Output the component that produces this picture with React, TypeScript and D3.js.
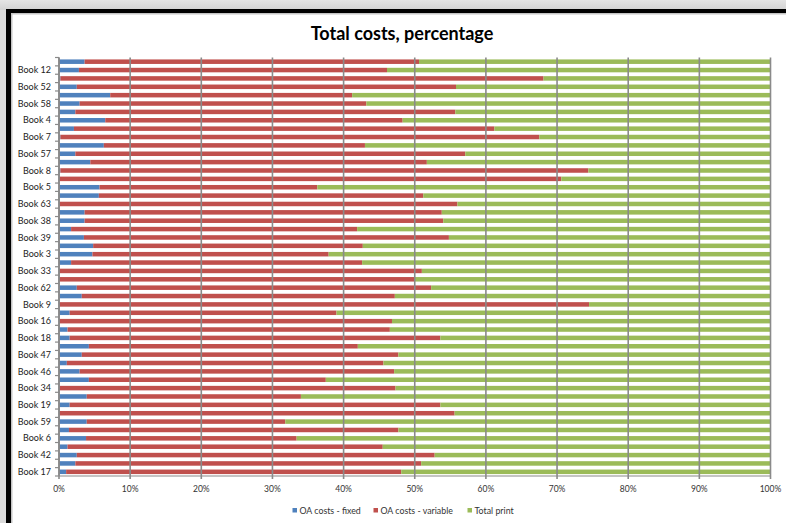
import React from "react";
import * as d3 from "d3";

const bookLabels = ["", "Book 12", "", "Book 52", "", "Book 58", "", "Book 4", "", "Book 7", "", "Book 57", "", "Book 8", "", "Book 5", "", "Book 63", "", "Book 38", "", "Book 39", "", "Book 3", "", "Book 33", "", "Book 62", "", "Book 9", "", "Book 16", "", "Book 18", "", "Book 47", "", "Book 46", "", "Book 34", "", "Book 19", "", "Book 59", "", "Book 6", "", "Book 42", "", "Book 17"];

const fixedPct = [3.6, 2.8, 0.2, 2.5, 7.2, 2.9, 2.3, 6.5, 2.1, 0.2, 6.3, 2.3, 4.4, 0.2, 0, 5.7, 5.6, 0, 3.6, 3.6, 1.7, 3.5, 4.8, 4.7, 1.7, 0, 0, 2.5, 3.2, 0, 1.5, 0, 1.2, 1.5, 4.2, 3.2, 1.1, 2.9, 4.2, 0, 3.9, 1.5, 0, 3.9, 1.4, 3.8, 1.2, 2.5, 2.3, 1.0];

const variablePct = [47.0, 43.3, 67.9, 53.3, 34.0, 40.3, 53.4, 41.8, 59.1, 67.3, 36.7, 54.8, 47.3, 74.2, 70.6, 30.6, 45.6, 56.0, 50.2, 50.4, 40.2, 51.3, 37.9, 33.2, 40.9, 51.0, 50.0, 49.8, 44.0, 74.5, 37.5, 46.8, 45.3, 52.1, 37.8, 44.5, 44.5, 44.2, 33.3, 47.3, 30.1, 52.1, 55.6, 27.9, 46.3, 29.6, 44.3, 50.3, 48.6, 47.1];

const printPct = [49.4, 53.9, 31.9, 44.2, 58.8, 56.8, 44.3, 51.7, 38.8, 32.5, 57.0, 42.9, 48.3, 25.6, 29.4, 63.7, 48.8, 44.0, 46.2, 46.0, 58.1, 45.2, 57.3, 62.1, 57.4, 49.0, 50.0, 47.7, 52.8, 25.5, 61.0, 53.2, 53.5, 46.4, 58.0, 52.3, 54.4, 52.9, 62.5, 52.7, 66.0, 46.4, 44.4, 68.2, 52.3, 66.6, 54.5, 47.2, 49.1, 51.9];

const seriesNames = ["OA costs - fixed", "OA costs - variable", "Total print"];
const seriesColors = ["#4F81BD", "#C0504D", "#9BBB59"];
const xTicks = [0, 0.1, 0.2, 0.3, 0.4, 0.5, 0.6, 0.7, 0.8, 0.9, 1.0];

const W = 786;
const H = 523;
const plot = { left: 59, right: 770.5, top: 57.5, bottom: 476 };
const FONT = "Lato, 'Liberation Sans', sans-serif";

export default function App() {
  const rows = bookLabels.map((label, i) => ({
    idx: i,
    label,
    fixed: fixedPct[i],
    variable: variablePct[i],
    print: printPct[i],
  }));
  const keys = ["fixed", "variable", "print"];
  const stacked = d3.stack<any>().keys(keys).offset(d3.stackOffsetExpand)(rows);

  const x = d3.scaleLinear().domain([0, 1]).range([plot.left, plot.right]);
  const y = d3
    .scaleBand<number>()
    .domain(rows.map((r) => r.idx))
    .range([plot.top, plot.bottom])
    .paddingInner(0.46)
    .paddingOuter(0.23);
  const step = y.step();

  const legendItems = [
    { x: 292.5, text: seriesNames[0], color: seriesColors[0] },
    { x: 373.5, text: seriesNames[1], color: seriesColors[1] },
    { x: 467.5, text: seriesNames[2], color: seriesColors[2] },
  ];

  return (
    <svg
      width={W}
      height={H}
      style={{ position: "absolute", left: 0, top: 0, display: "block" }}
      xmlns="http://www.w3.org/2000/svg"
    >
      <defs>
        <linearGradient id="bgTop" x1="0" y1="0" x2="0" y2="1">
          <stop offset="0" stopColor="#e4e4e4" />
          <stop offset="1" stopColor="#d2d2d2" />
        </linearGradient>
      </defs>
      <rect x={0} y={0} width={W} height={H} fill="#dadada" />
      <rect x={0} y={0} width={W} height={10} fill="url(#bgTop)" />
      {/* frame */}
      <rect x={6} y={9} width={W + 10} height={H + 10} fill="#000" />
      <rect x={11} y={13} width={W + 10} height={H + 10} fill="#c4c4c4" />
      <rect x={12.5} y={14.5} width={W + 10} height={H + 10} fill="#fff" />

      {/* title */}
      <text
        x={402}
        y={40}
        textAnchor="middle"
        fontFamily={FONT}
        fontWeight="bold"
        fontSize={18}
        fill="#000"
      >
        Total costs, percentage
      </text>

      {/* bars */}
      {stacked.map((s, si) => (
        <g key={s.key}>
          {s.map((d, i) => (
            <rect
              key={i}
              x={x(d[0])}
              y={y(rows[i].idx)}
              width={Math.max(0, x(d[1]) - x(d[0]))}
              height={y.bandwidth()}
              fill={seriesColors[si]}
            />
          ))}
        </g>
      ))}

      {/* vertical gridlines */}
      {xTicks.map((t) => (
        <line
          key={t}
          x1={x(t)}
          x2={x(t)}
          y1={plot.top}
          y2={plot.bottom + 3}
          stroke="#8a8a8a"
          strokeWidth={1.6}
        />
      ))}

      {/* y axis */}
      <line x1={plot.left} x2={plot.left} y1={plot.top} y2={plot.bottom} stroke="#8a8a8a" strokeWidth={1.6} />
      {d3.range(rows.length + 1).map((k) => (
        <line
          key={k}
          x1={plot.left - 4}
          x2={plot.left}
          y1={plot.top + k * step}
          y2={plot.top + k * step}
          stroke="#8a8a8a"
          strokeWidth={1.2}
        />
      ))}
      {rows.map((r) =>
        r.label ? (
          <text
            key={r.idx}
            x={51}
            y={(y(r.idx) as number) + y.bandwidth() / 2}
            dy="0.35em"
            textAnchor="end"
            fontFamily={FONT}
            fontSize={9}
            fill="#222"
          >
            {r.label}
          </text>
        ) : null
      )}

      {/* x axis */}
      <line x1={plot.left} x2={plot.right} y1={plot.bottom} y2={plot.bottom} stroke="#8a8a8a" strokeWidth={1.2} />
      {xTicks.map((t) => (
        <text
          key={t}
          x={x(t)}
          y={489}
          dy="0.35em"
          textAnchor="middle"
          fontFamily={FONT}
          fontSize={8.5}
          fill="#333"
        >
          {d3.format(".0%")(t)}
        </text>
      ))}

      {/* legend */}
      {legendItems.map((l) => (
        <g key={l.text}>
          <rect x={l.x} y={508} width={4.5} height={4.5} fill={l.color} />
          <text x={l.x + 7} y={510.5} dy="0.35em" fontFamily={FONT} fontSize={8.8} fill="#333">
            {l.text}
          </text>
        </g>
      ))}
    </svg>
  );
}
